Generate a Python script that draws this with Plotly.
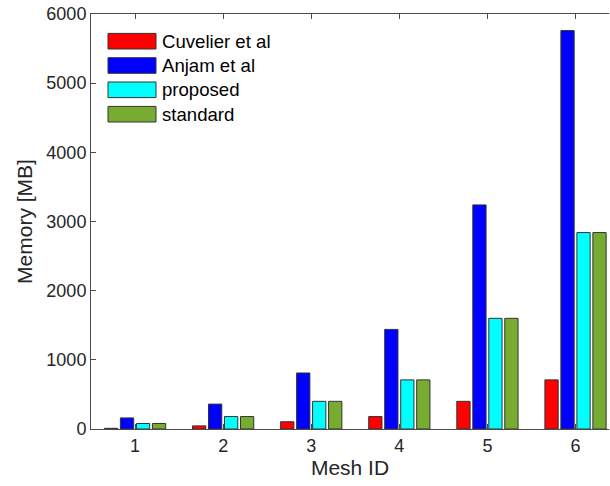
import plotly.graph_objects as go

mesh_ids = [1, 2, 3, 4, 5, 6]
series_names = ["Cuvelier et al", "Anjam et al", "proposed", "standard"]
cuvelier = [10, 45, 105, 180, 400, 710]
anjam = [160, 360, 810, 1440, 3240, 5760]
proposed = [80, 180, 400, 710, 1600, 2840]
standard = [80, 180, 400, 710, 1600, 2840]
colors = ["#FF0000", "#0000FF", "#00FFFF", "#77AC30"]
y_ticks = [0, 1000, 2000, 3000, 4000, 5000, 6000]

series_values = [cuvelier, anjam, proposed, standard]

W, H = 610, 486
ML, MT, MR, MB = 91, 14, 1, 57

fig = go.Figure()
for name, vals, col in zip(series_names, series_values, colors):
    fig.add_trace(go.Bar(
        x=mesh_ids, y=vals, name=name,
        marker=dict(color=col, line=dict(color="#333333", width=1)),
        showlegend=False,
    ))

font_family = "Liberation Sans, Arial, Helvetica, sans-serif"
axis_col = "#4a4a4a"

fig.update_layout(
    width=W, height=H,
    margin=dict(l=ML, r=MR, t=MT, b=MB, pad=0),
    barmode="group", bargap=0.274, bargroupgap=0.17,
    plot_bgcolor="white", paper_bgcolor="white",
    font=dict(family=font_family, size=18, color="#262626"),
    xaxis=dict(
        range=[0.5, 6.38], tickmode="array", tickvals=mesh_ids,
        ticktext=[str(m) for m in mesh_ids],
        ticks="inside", ticklen=5, tickcolor=axis_col,
        showline=True, linecolor=axis_col, linewidth=1, mirror="ticks",
        showgrid=False, zeroline=False,
        tickfont=dict(size=18),
        title=dict(text="Mesh ID", font=dict(size=21), standoff=5),
    ),
    yaxis=dict(
        range=[0, 6000], tickmode="array", tickvals=y_ticks,
        ticktext=[str(v) for v in y_ticks],
        ticks="inside", ticklen=5, tickcolor=axis_col,
        showline=True, linecolor=axis_col, linewidth=1,
        showgrid=False, zeroline=False,
        tickfont=dict(size=18),
        title=dict(text="Memory [MB]", font=dict(size=21), standoff=8),
    ),
)

# Custom legend (large patches, no box), in pixel-derived paper coordinates
pw = W - ML - MR
ph = H - MT - MB
def px_x(x):
    return (x - ML) / pw
def px_y(y):
    return 1 - (y - MT) / ph

patch_x0, patch_x1 = 108, 156
centers = [41.2, 65.5, 89.8, 114.2]
half_h = 7.8
for name, col, cy in zip(series_names, colors, centers):
    fig.add_shape(type="rect", xref="paper", yref="paper",
                  x0=px_x(patch_x0), x1=px_x(patch_x1),
                  y0=px_y(cy + half_h), y1=px_y(cy - half_h),
                  fillcolor=col, line=dict(color="#333333", width=1))
    fig.add_annotation(xref="paper", yref="paper", x=px_x(160), y=px_y(cy),
                       text=name, showarrow=False, xanchor="left", yanchor="middle",
                       font=dict(size=18.6, color="#000000"))

fig.write_html("out.html")
